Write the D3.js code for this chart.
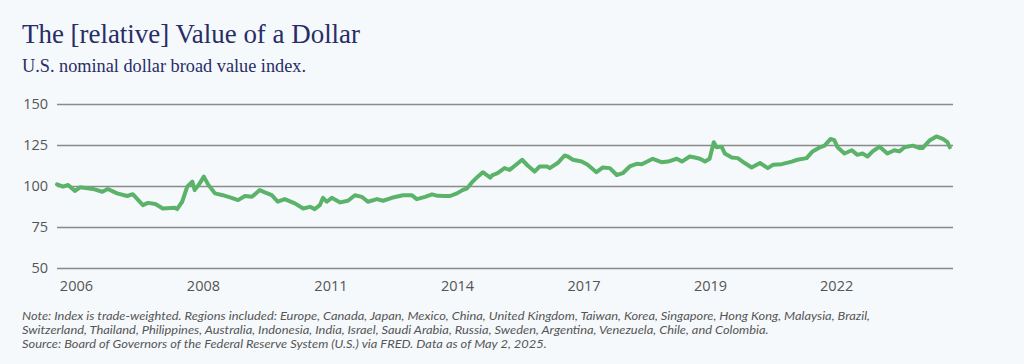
<!DOCTYPE html>
<html lang="en">
<head>
    <meta charset="UTF-8">
    <title>The [relative] Value of a Dollar</title>
    <script src="https://cdn.jsdelivr.net/npm/d3@7"></script>
    <style>
        html, body { margin: 0; padding: 0; background: #f5f9fc; }
        svg { display: block; }
        .title { font-family: "Liberation Serif", serif; fill: #282d66; }
        .axis text { font-family: "Open Sans", sans-serif; fill: #555; }
        .axis .domain { display: none; }
        .note { font-family: Lato, sans-serif; font-style: italic; fill: #555; font-size: 11.6px; }
    </style>
</head>
<body>
<svg id="chart" width="1024" height="364"></svg>
<script>
"use strict";

// readings, decimal year -> index value
var years = [
    2006.00, 2006.13, 2006.24, 2006.39, 2006.50, 2006.78, 2006.98, 2007.10, 2007.30, 2007.52,
    2007.64, 2007.86, 2007.97, 2008.13, 2008.29, 2008.55, 2008.60, 2008.71, 2008.82, 2008.93,
    2008.98, 2009.09, 2009.18, 2009.27, 2009.42, 2009.59, 2009.78, 2009.92, 2010.07, 2010.22,
    2010.39, 2010.50, 2010.65, 2010.78, 2010.93, 2011.15, 2011.33, 2011.48, 2011.58, 2011.69,
    2011.76, 2011.84, 2011.95, 2012.13, 2012.30, 2012.45, 2012.60, 2012.73, 2012.93, 2013.06,
    2013.25, 2013.49, 2013.68, 2013.79, 2013.97, 2014.12, 2014.24, 2014.40, 2014.51, 2014.66,
    2014.78, 2014.88, 2015.00, 2015.11, 2015.22, 2015.38, 2015.43, 2015.54, 2015.69, 2015.80,
    2015.92, 2016.07, 2016.19, 2016.34, 2016.45, 2016.61, 2016.67, 2016.84, 2016.99, 2017.06,
    2017.17, 2017.36, 2017.49, 2017.68, 2017.82, 2017.97, 2018.12, 2018.25, 2018.40, 2018.55,
    2018.66, 2018.90, 2019.09, 2019.23, 2019.42, 2019.53, 2019.70, 2019.81, 2019.92, 2020.03,
    2020.13, 2020.22, 2020.28, 2020.39, 2020.46, 2020.61, 2020.74, 2020.89, 2021.04, 2021.22,
    2021.39, 2021.50, 2021.69, 2021.91, 2022.03, 2022.23, 2022.36, 2022.52, 2022.62, 2022.75,
    2022.83, 2022.90, 2023.05, 2023.21, 2023.33, 2023.44, 2023.55, 2023.66, 2023.81, 2023.98,
    2024.13, 2024.24, 2024.35, 2024.53, 2024.68, 2024.74, 2024.89, 2025.04, 2025.18, 2025.28,
    2025.33
];
var values = [
    101.0, 99.6, 100.6, 97.0, 99.2, 98.2, 96.5, 98.2, 95.5, 93.9,
    95.0, 88.3, 89.7, 89.0, 86.3, 86.7, 85.9, 90.4, 99.6, 102.7,
    97.5, 101.6, 105.7, 101.0, 95.5, 94.4, 92.8, 91.4, 93.9, 93.4,
    97.5, 96.1, 94.4, 90.4, 92.0, 89.4, 86.3, 87.3, 85.9, 88.3,
    92.8, 90.4, 92.8, 90.0, 91.0, 94.4, 93.4, 90.4, 92.0, 91.0,
    92.8, 94.4, 94.4, 92.0, 93.4, 94.9, 94.0, 93.9, 93.9, 95.5,
    97.5, 98.6, 102.7, 105.7, 108.4, 105.1, 106.7, 107.8, 110.9, 109.8,
    112.5, 116.0, 112.5, 108.8, 111.9, 111.9, 110.9, 114.0, 118.6, 118.0,
    116.0, 114.9, 112.9, 108.4, 111.3, 110.9, 106.7, 107.8, 111.9, 113.5,
    113.3, 116.6, 114.5, 114.9, 116.6, 114.9, 118.0, 117.4, 116.6, 114.9,
    116.6, 126.7, 123.6, 124.0, 119.8, 117.4, 117.0, 114.0, 111.3, 114.0,
    110.9, 112.9, 113.3, 114.9, 116.0, 117.0, 121.1, 123.6, 124.6, 128.7,
    128.0, 123.6, 119.8, 121.8, 119.0, 119.8, 118.0, 121.1, 124.0, 119.8,
    121.8, 121.1, 123.6, 124.6, 123.1, 123.1, 127.7, 130.2, 128.7, 126.7,
    123.6
];

var yTicks = [50, 75, 100, 125, 150];
var xTickYears = [2006.41, 2009.16, 2011.92, 2014.66, 2017.40, 2020.14, 2022.87];
var xTickLabels = ["2006", "2008", "2011", "2014", "2017", "2019", "2022"];

var notes = [
    "Note: Index is trade-weighted. Regions included: Europe, Canada, Japan, Mexico, China, United Kingdom, Taiwan, Korea, Singapore, Hong Kong, Malaysia, Brazil,",
    "Switzerland, Thailand, Philippines, Australia, Indonesia, India, Israel, Saudi Arabia, Russia, Sweden, Argentina, Venezuela, Chile, and Colombia.",
    "Source: Board of Governors of the Federal Reserve System (U.S.) via FRED. Data as of May 2, 2025."
];

var data = years.map(function (y, i) { return { year: y, value: values[i] }; });

var svg = d3.select("#chart");
var plotLeft = 57, plotRight = 953, plotTop = 104, plotBottom = 268;

var x = d3.scaleLinear().domain([2006, 2025.4]).range([plotLeft, plotRight]);
var y = d3.scaleLinear().domain([50, 150]).range([plotBottom, plotTop]);

svg.append("text").attr("class", "title")
    .attr("x", 22).attr("y", 43)
    .attr("font-size", 27)
    .attr("textLength", 338).attr("lengthAdjust", "spacingAndGlyphs")
    .text("The [relative] Value of a Dollar");

svg.append("text").attr("class", "title")
    .attr("x", 22).attr("y", 72)
    .attr("font-size", 18)
    .attr("textLength", 284).attr("lengthAdjust", "spacingAndGlyphs")
    .text("U.S. nominal dollar broad value index.");

// y axis with gridlines
var yAxis = svg.append("g").attr("class", "axis")
    .attr("transform", "translate(" + plotLeft + ",0)")
    .call(d3.axisLeft(y).tickValues(yTicks).tickSize(-(plotRight - plotLeft)).tickPadding(9));
yAxis.selectAll(".tick line").attr("stroke", "#8a8a8a").attr("stroke-width", 1.4);
yAxis.selectAll(".tick text").attr("font-size", 14.5);

// x axis, labels only
var xAxis = svg.append("g").attr("class", "axis")
    .attr("transform", "translate(0," + plotBottom + ")")
    .call(d3.axisBottom(x).tickValues(xTickYears)
        .tickFormat(function (d, i) { return xTickLabels[i]; })
        .tickSize(0).tickPadding(13));
xAxis.selectAll(".tick text").attr("font-size", 14.5);

var line = d3.line()
    .x(function (d) { return x(d.year); })
    .y(function (d) { return y(d.value); });

svg.append("path").datum(data)
    .attr("fill", "none")
    .attr("stroke", "#5bb36a")
    .attr("stroke-width", 4)
    .attr("stroke-linejoin", "round")
    .attr("stroke-linecap", "round")
    .attr("d", line);

var noteText = svg.selectAll(".note").data(notes).enter().append("text")
    .attr("class", "note")
    .attr("x", 22)
    .attr("y", function (d, i) { return 320 + i * 14; })
    .text(function (d) { return d; });

// stretch the notes evenly so the first line ends where the reference's does
var stretch = 848 / noteText.node().getComputedTextLength();
noteText.each(function () {
    var w = this.getComputedTextLength();
    d3.select(this).attr("textLength", w * stretch).attr("lengthAdjust", "spacingAndGlyphs");
});
</script>
</body>
</html>
